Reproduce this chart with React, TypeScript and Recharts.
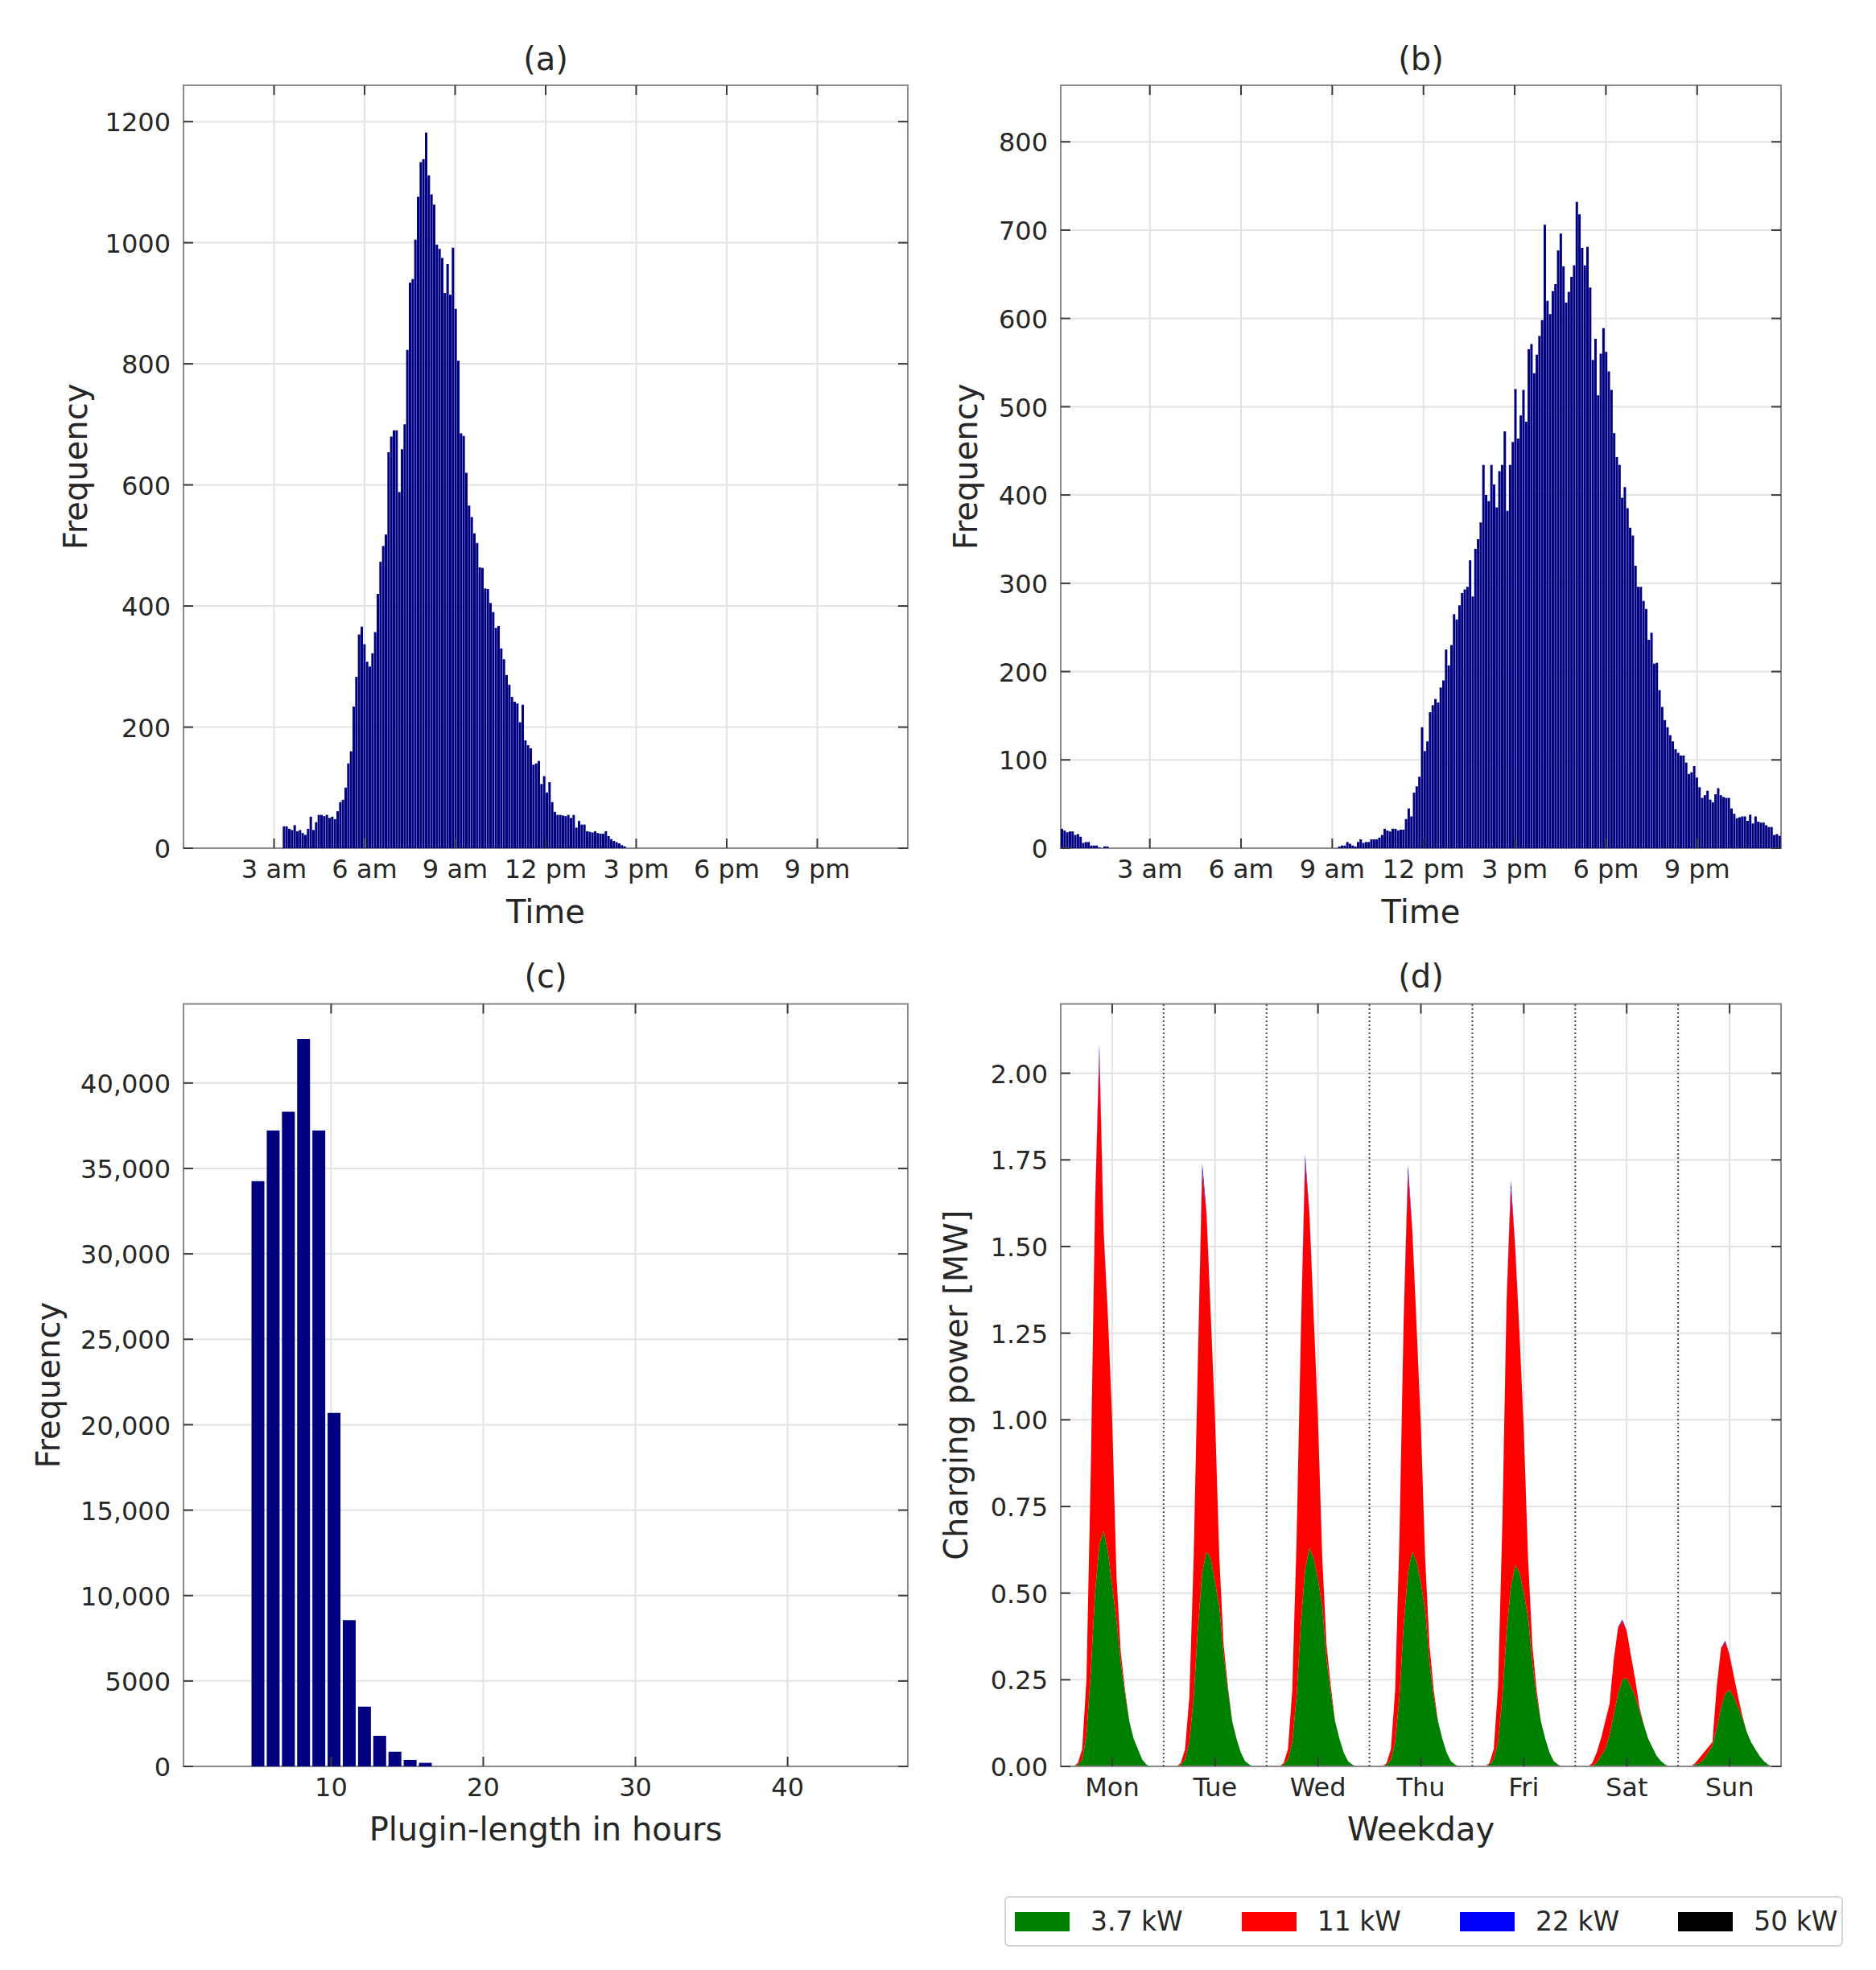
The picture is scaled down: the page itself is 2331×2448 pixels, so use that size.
import React from "react";
import {
  BarChart,
  Bar,
  AreaChart,
  Area,
  XAxis,
  YAxis,
  CartesianGrid,
  ReferenceArea,
  ReferenceLine,
  Legend,
} from "recharts";

const FONT = "DejaVu Sans";
const INK = "#262626";
const NAVY = "#000080";
const GRID = "#e3e3e3";
const SPINE = "#8a8a8a";
const TICK_INK = "#3a3a3a";
const TICK_LEN = 12;
const X_GAP = 13;
const Y_GAP = 16;

// (a) arrival times: 270 bins over the day, first filled bin is 37
const arrivalBinCount = 270;
const arrivalFirstBin = 37;
const arrivalCounts = [
  36, 36, 32, 30, 38, 28, 30, 25, 22, 32,
  52, 30, 43, 55, 55, 53, 55, 50, 52, 48,
  61, 76, 80, 100, 140, 160, 234, 283, 353, 366,
  337, 308, 300, 322, 357, 420, 473, 499, 518, 654,
  680, 690, 690, 588, 659, 700, 823, 934, 940, 1005,
  1076, 1133, 1138, 1182, 1111, 1080, 1063, 997, 990, 975,
  917, 965, 914, 992, 891, 805, 685, 681, 620, 566,
  547, 520, 504, 464, 463, 429, 428, 405, 390, 364,
  367, 330, 312, 286, 270, 250, 242, 239, 208, 237,
  178, 170, 165, 138, 140, 144, 106, 119, 92, 109,
  76, 60, 55, 55, 54, 53, 55, 50, 55, 34,
  45, 39, 39, 28, 27, 26, 28, 25, 24, 24,
  28, 20, 15, 12, 10, 8, 5, 3,
];

// (b) departure times: 270 bins between the first and last departure
const departureRange = [0.07, 23.76];
const departureBinCount = 270;
const departureEarly = [22, 20, 18, 19, 19, 15, 16, 13, 6, 7, 7, 3, 3, 3, 1, 0, 2, 2];
const departureLateFirstBin = 104;
const departureLate = [
  2, 3, 3, 7, 5, 3, 2, 7, 10, 6, 7, 7, 10, 10, 10, 12, 15, 22, 20, 19, 22, 22, 20,
  21, 21, 33, 45, 36, 63, 70, 81, 137, 110,
  121, 154, 162, 169, 165, 182, 190, 225, 207, 230,
  265, 259, 275, 289, 293, 296, 326, 285, 339, 350,
  369, 434, 400, 393, 434, 412, 386, 427, 434, 472,
  382, 434, 460, 520, 464, 490, 519, 483, 565, 571,
  538, 559, 580, 598, 706, 620, 605, 631, 639, 677,
  696, 659, 618, 630, 647, 660, 732, 718, 680, 660,
  681, 635, 553, 577, 513, 560, 589, 562, 540, 519,
  470, 443, 434, 397, 409, 385, 363, 354, 320, 296,
  296, 280, 271, 236, 244, 209, 210, 179, 160, 145,
  137, 128, 121, 112, 108, 105, 105, 97, 84, 86,
  93, 80, 69, 57, 60, 65, 55, 52, 61, 68,
  60, 58, 57, 57, 45, 39, 34, 35, 36, 36,
  31, 38, 28, 36, 30, 29, 29, 26, 24, 24,
  15, 16, 14,
];

const clockTicks = [3, 6, 9, 12, 15, 18, 21];
const clockLabels = ["3 am", "6 am", "9 am", "12 pm", "3 pm", "6 pm", "9 pm"];
const arrivalYTicks = [0, 200, 400, 600, 800, 1000, 1200];
const departureYTicks = [0, 100, 200, 300, 400, 500, 600, 700, 800];

// (c) plugin length histogram, 1 h bins
const pluginFirstCenter = 5.2;
const pluginCounts = [34260, 37220, 38320, 42580, 37220, 20690, 8560, 3500, 1790, 860, 380, 210];
const pluginXTicks = [10, 20, 30, 40];
const pluginYTicks = [0, 5000, 10000, 15000, 20000, 25000, 30000, 35000, 40000];
const pluginYLabels = ["0", "5000", "10,000", "15,000", "20,000", "25,000", "30,000", "35,000", "40,000"];

// (d) hourly charging power per weekday [MW]
const weekdays = ["Mon", "Tue", "Wed", "Thu", "Fri", "Sat", "Sun"];
const dayCenters = [0.5, 1.5, 2.5, 3.5, 4.5, 5.5, 6.5];
const dayBoundaries = [1, 2, 3, 4, 5, 6];
const powerYTicks = [0, 0.25, 0.5, 0.75, 1, 1.25, 1.5, 1.75, 2];

const kw37 = [
  [0, 0, 0, 0, 0.005, 0.02, 0.09, 0.27, 0.5, 0.64, 0.68, 0.62, 0.52, 0.42, 0.3, 0.21, 0.13, 0.08, 0.05, 0.02, 0.005, 0, 0, 0],
  [0, 0, 0, 0, 0.005, 0.02, 0.07, 0.2, 0.4, 0.56, 0.62, 0.6, 0.53, 0.46, 0.32, 0.22, 0.13, 0.08, 0.04, 0.015, 0.005, 0, 0, 0],
  [0, 0, 0, 0, 0.005, 0.02, 0.07, 0.2, 0.41, 0.57, 0.63, 0.6, 0.54, 0.46, 0.31, 0.21, 0.13, 0.08, 0.04, 0.015, 0.005, 0, 0, 0],
  [0, 0, 0, 0, 0.005, 0.02, 0.07, 0.2, 0.41, 0.56, 0.62, 0.59, 0.53, 0.45, 0.3, 0.2, 0.13, 0.08, 0.04, 0.015, 0.005, 0, 0, 0],
  [0, 0, 0, 0, 0.005, 0.02, 0.07, 0.2, 0.39, 0.52, 0.58, 0.56, 0.5, 0.43, 0.3, 0.2, 0.13, 0.08, 0.04, 0.015, 0.005, 0, 0, 0],
  [0, 0, 0, 0, 0.003, 0.01, 0.03, 0.05, 0.09, 0.15, 0.21, 0.25, 0.255, 0.23, 0.2, 0.16, 0.12, 0.08, 0.055, 0.03, 0.015, 0.005, 0, 0],
  [0, 0, 0, 0, 0.005, 0.01, 0.02, 0.04, 0.06, 0.11, 0.17, 0.21, 0.22, 0.2, 0.17, 0.14, 0.1, 0.07, 0.05, 0.03, 0.015, 0.005, 0, 0],
];
const kw11 = [
  [0, 0, 0, 0, 0.005, 0.03, 0.16, 0.58, 1.115, 1.42, 0.862, 0.68, 0.48, 0.13, 0.03, 0.01, 0, 0, 0, 0, 0, 0, 0, 0],
  [0, 0, 0, 0, 0.005, 0.03, 0.13, 0.4, 0.776, 1.16, 0.974, 0.7, 0.47, 0.14, 0.03, 0.01, 0, 0, 0, 0, 0, 0, 0, 0],
  [0, 0, 0, 0, 0.005, 0.03, 0.15, 0.45, 0.836, 1.175, 0.964, 0.7, 0.46, 0.14, 0.04, 0.02, 0, 0, 0, 0, 0, 0, 0, 0],
  [0, 0, 0, 0, 0.005, 0.03, 0.15, 0.46, 0.886, 1.155, 0.924, 0.68, 0.45, 0.15, 0.05, 0.02, 0, 0, 0, 0, 0, 0, 0, 0],
  [0, 0, 0, 0, 0.005, 0.03, 0.16, 0.5, 0.956, 1.15, 0.914, 0.69, 0.47, 0.17, 0.05, 0.02, 0, 0, 0, 0, 0, 0, 0, 0],
  [0, 0, 0, 0, 0.007, 0.03, 0.05, 0.08, 0.09, 0.16, 0.19, 0.17, 0.135, 0.09, 0.05, 0.01, 0, 0, 0, 0, 0, 0, 0, 0],
  [0, 0, 0, 0, 0.005, 0.015, 0.02, 0.015, 0.01, 0.12, 0.17, 0.15, 0.1, 0.06, 0.03, 0.005, 0, 0, 0, 0, 0, 0, 0, 0],
];
const kw22 = [
  [0, 0, 0, 0, 0, 0, 0, 0, 0.005, 0.025, 0.008, 0, 0, 0, 0, 0, 0, 0, 0, 0, 0, 0, 0, 0],
  [0, 0, 0, 0, 0, 0, 0, 0, 0.004, 0.02, 0.006, 0, 0, 0, 0, 0, 0, 0, 0, 0, 0, 0, 0, 0],
  [0, 0, 0, 0, 0, 0, 0, 0, 0.004, 0.02, 0.006, 0, 0, 0, 0, 0, 0, 0, 0, 0, 0, 0, 0, 0],
  [0, 0, 0, 0, 0, 0, 0, 0, 0.004, 0.02, 0.006, 0, 0, 0, 0, 0, 0, 0, 0, 0, 0, 0, 0, 0],
  [0, 0, 0, 0, 0, 0, 0, 0, 0.004, 0.02, 0.006, 0, 0, 0, 0, 0, 0, 0, 0, 0, 0, 0, 0, 0],
  [0, 0, 0, 0, 0, 0, 0, 0, 0, 0, 0.002, 0.004, 0.002, 0, 0, 0, 0, 0, 0, 0, 0, 0, 0, 0],
  [0, 0, 0, 0, 0, 0, 0, 0, 0, 0, 0.002, 0.003, 0.002, 0, 0, 0, 0, 0, 0, 0, 0, 0, 0, 0],
];
// the 50 kW class stays at zero every day
const kw50Day = [0, 0, 0, 0, 0, 0, 0, 0, 0, 0, 0, 0, 0, 0, 0, 0, 0, 0, 0, 0, 0, 0, 0, 0];

const powerClasses = [
  { key: "kw37", name: "3.7 kW", color: "#008000" },
  { key: "kw11", name: "11 kW", color: "#ff0000" },
  { key: "kw22", name: "22 kW", color: "#0000ff" },
  { key: "kw50", name: "50 kW", color: "#000000" },
];

// tables for the charts
const arrivalBinWidth = 24 / arrivalBinCount;
const arrivalData = arrivalCounts.map((n, i) => ({ t: (arrivalFirstBin + i + 0.5) * arrivalBinWidth, n }));

const departureBinWidth = (departureRange[1] - departureRange[0]) / departureBinCount;
const departureData = [
  ...departureEarly.map((n, i) => ({ t: departureRange[0] + (i + 0.5) * departureBinWidth, n })),
  ...departureLate.map((n, i) => ({
    t: departureRange[0] + (departureLateFirstBin + i + 0.5) * departureBinWidth,
    n,
  })),
];

const pluginData = pluginCounts.map((n, i) => ({ h: pluginFirstCenter + i, n }));

const weekData = weekdays.flatMap((_, d) =>
  kw37[d].map((g, h) => ({
    t: d + h / 24,
    kw37: g,
    kw11: kw11[d][h],
    kw22: kw22[d][h],
    kw50: kw50Day[h],
  }))
);

type Box = {
  left: number;
  top: number;
  width: number;
  height: number;
  margin: { top: number; right: number; bottom: number; left: number };
  yAxisWidth: number;
  xAxisHeight: number;
  legendHeight: number;
};

const boxA: Box = { left: 0, top: 0, width: 1165, height: 1200, margin: { top: 106, right: 37, bottom: 46, left: 48 }, yAxisWidth: 180, xAxisHeight: 100, legendHeight: 0 };
const boxB: Box = { left: 1135, top: 0, width: 1196, height: 1200, margin: { top: 106, right: 118, bottom: 46, left: 30 }, yAxisWidth: 153, xAxisHeight: 100, legendHeight: 0 };
const boxC: Box = { left: 0, top: 1160, width: 1165, height: 1200, margin: { top: 87.5, right: 37, bottom: 65, left: 20 }, yAxisWidth: 208, xAxisHeight: 100, legendHeight: 0 };
const boxD: Box = { left: 1135, top: 1160, width: 1196, height: 1288, margin: { top: 87.5, right: 118, bottom: 29, left: 30 }, yAxisWidth: 153, xAxisHeight: 161, legendHeight: 63 };

const plotOf = (b: Box) => {
  const left = b.margin.left + b.yAxisWidth;
  const right = b.width - b.margin.right;
  const top = b.margin.top;
  const bottom = b.height - b.margin.bottom - b.legendHeight - b.xAxisHeight;
  return { left, right, top, bottom };
};

const tickText = { fontFamily: FONT, fontSize: 32, fill: INK };
const titleText = { fontFamily: FONT, fontSize: 40, fill: INK };

function makeXTick(b: Box, format: (v: number) => string) {
  const top = plotOf(b).top;
  return (p: any) => {
    const bottom = p.y - X_GAP;
    return (
      <g>
        <line x1={p.x} x2={p.x} y1={bottom} y2={bottom - TICK_LEN} stroke={TICK_INK} strokeWidth={2} />
        <line x1={p.x} x2={p.x} y1={top} y2={top + TICK_LEN} stroke={TICK_INK} strokeWidth={2} />
        <text x={p.x} y={p.y} dy="0.74em" textAnchor="middle" {...tickText}>
          {format(p.payload.value)}
        </text>
      </g>
    );
  };
}

function makeYTick(b: Box, format: (v: number) => string) {
  const right = plotOf(b).right;
  return (p: any) => {
    const left = p.x + Y_GAP;
    return (
      <g>
        <line x1={left} x2={left + TICK_LEN} y1={p.y} y2={p.y} stroke={TICK_INK} strokeWidth={2} />
        <line x1={right} x2={right - TICK_LEN} y1={p.y} y2={p.y} stroke={TICK_INK} strokeWidth={2} />
        <text x={p.x} y={p.y} dy="0.38em" textAnchor="end" {...tickText}>
          {format(p.payload.value)}
        </text>
      </g>
    );
  };
}

function xTitle(b: Box, text: string, below: number) {
  const p = plotOf(b);
  return () => (
    <text x={(p.left + p.right) / 2} y={p.bottom + below} textAnchor="middle" {...titleText}>
      {text}
    </text>
  );
}

function yTitle(b: Box, text: string, cx: number) {
  const p = plotOf(b);
  const cy = (p.top + p.bottom) / 2;
  return () => (
    <text x={cx} y={cy} dy="0.25em" transform={`rotate(-90 ${cx} ${cy})`} textAnchor="middle" {...titleText}>
      {text}
    </text>
  );
}

const clockLabel = (v: number) => clockLabels[clockTicks.indexOf(v)] ?? "";
const plainLabel = (v: number) => String(v);

type HistProps = {
  box: Box;
  data: { t: number; n: number }[];
  xDomain: number[];
  yMax: number;
  yTicks: number[];
  yTitleX: number;
};

function TimeHistogram({ box, data, xDomain, yMax, yTicks, yTitleX }: HistProps) {
  return (
    <div style={{ position: "absolute", left: box.left, top: box.top }}>
      <BarChart width={box.width} height={box.height} data={data} margin={box.margin} barCategoryGap={0} barGap={0}>
        <CartesianGrid stroke={GRID} strokeWidth={2} />
        <XAxis
          type="number"
          dataKey="t"
          domain={xDomain}
          allowDataOverflow
          ticks={clockTicks}
          interval={0}
          height={box.xAxisHeight}
          tickSize={0}
          tickMargin={X_GAP}
          axisLine={false}
          tickLine={false}
          tick={makeXTick(box, clockLabel)}
          label={xTitle(box, "Time", 93)}
        />
        <YAxis
          type="number"
          domain={[0, yMax]}
          allowDataOverflow
          ticks={yTicks}
          interval={0}
          width={box.yAxisWidth}
          tickSize={0}
          tickMargin={Y_GAP}
          axisLine={false}
          tickLine={false}
          tick={makeYTick(box, plainLabel)}
          label={yTitle(box, "Frequency", yTitleX)}
        />
        <Bar dataKey="n" fill={NAVY} isAnimationActive={false} />
        <ReferenceArea x1={xDomain[0]} x2={xDomain[1]} y1={0} y2={yMax} fill="none" stroke={SPINE} strokeWidth={2} ifOverflow="visible" />
      </BarChart>
    </div>
  );
}

function PluginHistogram() {
  const box = boxC;
  const xDomain = [0.3, 47.9];
  const yMax = 44630;
  return (
    <div style={{ position: "absolute", left: box.left, top: box.top }}>
      <BarChart width={box.width} height={box.height} data={pluginData} margin={box.margin} barCategoryGap="7%" barGap={0}>
        <CartesianGrid stroke={GRID} strokeWidth={2} />
        <XAxis
          type="number"
          dataKey="h"
          domain={xDomain}
          allowDataOverflow
          ticks={pluginXTicks}
          interval={0}
          height={box.xAxisHeight}
          tickSize={0}
          tickMargin={X_GAP}
          axisLine={false}
          tickLine={false}
          tick={makeXTick(box, plainLabel)}
          label={xTitle(box, "Plugin-length in hours", 92)}
        />
        <YAxis
          type="number"
          domain={[0, yMax]}
          allowDataOverflow
          ticks={pluginYTicks}
          interval={0}
          width={box.yAxisWidth}
          tickSize={0}
          tickMargin={Y_GAP}
          axisLine={false}
          tickLine={false}
          tick={makeYTick(box, (v) => pluginYLabels[pluginYTicks.indexOf(v)] ?? "")}
          label={yTitle(box, "Frequency", 64)}
        />
        <Bar dataKey="n" fill={NAVY} isAnimationActive={false} />
        <ReferenceArea x1={xDomain[0]} x2={xDomain[1]} y1={0} y2={yMax} fill="none" stroke={SPINE} strokeWidth={2} ifOverflow="visible" />
      </BarChart>
    </div>
  );
}

const renderPowerLegend = (props: any) => {
  const order = powerClasses.map((c) => c.name);
  const given = (props && props.payload) || [];
  const items = (given.length ? [...given] : powerClasses.map((c) => ({ value: c.name })))
    .sort((a: any, b: any) => order.indexOf(a.value) - order.indexOf(b.value))
    .map((it: any) => powerClasses.find((c) => c.name === it.value) ?? powerClasses[0]);
  return (
    <div
      style={{
        width: 1042,
        height: 63,
        boxSizing: "border-box",
        border: "2px solid #d4d4d4",
        borderRadius: 6,
        display: "flex",
        alignItems: "center",
        paddingLeft: 11,
        gap: 73,
        fontFamily: FONT,
        fontSize: 33,
        color: INK,
        background: "#fff",
      }}
    >
      {items.map((c: any) => (
        <div key={c.name} style={{ display: "flex", alignItems: "center" }}>
          <span style={{ display: "inline-block", width: 68, height: 24, background: c.color }} />
          <span style={{ marginLeft: 26, lineHeight: 1, whiteSpace: "nowrap" }}>{c.name}</span>
        </div>
      ))}
    </div>
  );
};

function WeeklyPower() {
  const box = boxD;
  const yMax = 2.2;
  return (
    <div style={{ position: "absolute", left: box.left, top: box.top }}>
      <AreaChart width={box.width} height={box.height} data={weekData} margin={box.margin}>
        <CartesianGrid stroke={GRID} strokeWidth={2} />
        <XAxis
          type="number"
          dataKey="t"
          domain={[0, 7]}
          allowDataOverflow
          ticks={dayCenters}
          interval={0}
          height={box.xAxisHeight}
          tickSize={0}
          tickMargin={X_GAP}
          axisLine={false}
          tickLine={false}
          tick={makeXTick(box, (v) => weekdays[dayCenters.indexOf(v)] ?? "")}
          label={xTitle(box, "Weekday", 92)}
        />
        <YAxis
          type="number"
          domain={[0, yMax]}
          allowDataOverflow
          ticks={powerYTicks}
          interval={0}
          width={box.yAxisWidth}
          tickSize={0}
          tickMargin={Y_GAP}
          axisLine={false}
          tickLine={false}
          tick={makeYTick(box, (v) => v.toFixed(2))}
          label={yTitle(box, "Charging power [MW]", 57)}
        />
        {powerClasses.map((c) => (
          <Area
            key={c.key}
            type="linear"
            dataKey={c.key}
            name={c.name}
            stackId="week"
            stroke="none"
            fill={c.color}
            fillOpacity={1}
            dot={false}
            activeDot={false}
            isAnimationActive={false}
          />
        ))}
        {dayBoundaries.map((d) => (
          <ReferenceLine key={d} x={d} stroke="#4a4a4a" strokeWidth={2} strokeDasharray="2 3" />
        ))}
        <ReferenceArea x1={0} x2={7} y1={0} y2={yMax} fill="none" stroke={SPINE} strokeWidth={2} ifOverflow="visible" />
        <Legend
          verticalAlign="bottom"
          align="left"
          content={renderPowerLegend}
          wrapperStyle={{ left: 113, width: 1042, height: 63 }}
        />
      </AreaChart>
    </div>
  );
}

const panelTitles = [
  { text: "(a)", x: 678, y: 87 },
  { text: "(b)", x: 1765.5, y: 87 },
  { text: "(c)", x: 678, y: 1227 },
  { text: "(d)", x: 1765.5, y: 1227 },
];

export default function App() {
  return (
    <div style={{ position: "relative", width: 2331, height: 2448, background: "#fff", overflow: "hidden" }}>
      <style>{"body{margin:0;background:#fff}"}</style>
      <TimeHistogram box={boxA} data={arrivalData} xDomain={[0, 24]} yMax={1260} yTicks={arrivalYTicks} yTitleX={98} />
      <TimeHistogram box={boxB} data={departureData} xDomain={departureRange} yMax={864} yTicks={departureYTicks} yTitleX={69} />
      <PluginHistogram />
      <WeeklyPower />
      <svg width={2331} height={2448} style={{ position: "absolute", left: 0, top: 0, pointerEvents: "none" }}>
        {panelTitles.map((t) => (
          <text key={t.text} x={t.x} y={t.y} textAnchor="middle" {...titleText}>
            {t.text}
          </text>
        ))}
      </svg>
    </div>
  );
}
